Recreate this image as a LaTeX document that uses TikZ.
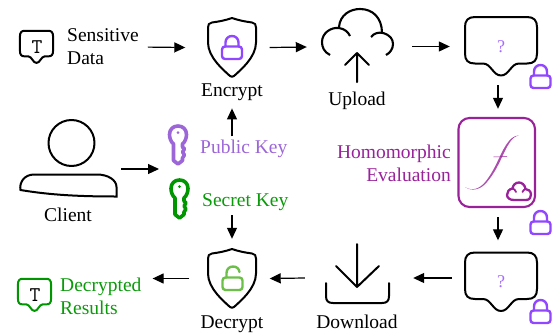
\documentclass[tikz,border=0pt]{standalone}
\usepackage{fontspec}
\setmainfont{Liberation Serif}
\usetikzlibrary{arrows.meta}
\definecolor{lockpurple}{HTML}{9146FF}
\definecolor{qpurple}{HTML}{A56CFF}
\definecolor{keypurple}{HTML}{9C66D9}
\definecolor{keygreen}{HTML}{009600}
\definecolor{textgreen}{HTML}{0A9A0A}
\definecolor{openlock}{HTML}{6CC04A}
\definecolor{evalpurple}{HTML}{99229A}
\tikzset{
  x=1pt,y=-1pt,
  every node/.style={font=\fontsize{19.5}{23}\selectfont,inner sep=0pt,align=center},
  link/.style={line width=1.2pt,-{Triangle[length=11pt,width=10pt]}},
  box/.style={draw=none,fill=none,rectangle,minimum width=#1},
  icon/.style={line width=2pt,line join=round,line cap=round},
  lockline/.style={line width=2.4pt,line join=round,line cap=round},
  glyphT/.style={font=\fontsize{21}{21}\selectfont\ttfamily},
  glyphQ/.style={font=\fontsize{18}{18}\selectfont,text=qpurple},
  pics/shieldicon/.style={code={
    \draw[icon] (0,-29.5) .. controls (-7,-27) and (-13,-26) .. (-20,-25)
      .. controls (-23,-24.5) and (-24,-23) .. (-24,-20) -- (-24,-5)
      .. controls (-24,10) and (-8,23) .. (-2,28.5) .. controls (-1,29.5) and (1,29.5) .. (2,28.5)
      .. controls (8,23) and (24,10) .. (24,-5) -- (24,-20)
      .. controls (24,-23) and (23,-24.5) .. (20,-25) .. controls (13,-26) and (7,-27) .. (0,-29.5) -- cycle;
  }},
  pics/lockicon/.style={code={
    \draw[lockline,color=lockpurple,rounded corners=3pt] (-10,-1.5) rectangle (10,11);
    \draw[lockline,color=lockpurple] (-6.5,-1.5) -- (-6.5,-5.5) .. controls (-6.5,-9.5) and (-3.5,-12) .. (0,-12)
      .. controls (3.5,-12) and (6.5,-9.5) .. (6.5,-5.5) -- (6.5,-1.5);
  }},
  pics/openlockicon/.style={code={
    \draw[lockline,color=openlock,rounded corners=3pt] (-10,-1.5) rectangle (10,11);
    \draw[lockline,color=openlock] (-6,-1.5) -- (-6,-6) .. controls (-6,-10) and (-3,-12.5) .. (0.5,-12.5)
      .. controls (4,-12.5) and (6.5,-10.5) .. (7,-7);
  }},
  pics/chaticon/.style={code={
    \draw[icon,color=#1] (-26,-29.5) -- (26,-29.5) .. controls (33,-29.5) and (36,-26) .. (36,-19.5)
      -- (36,7) .. controls (36,14) and (33,17) .. (26,17) -- (18,17)
      .. controls (10,17) and (8,29) .. (0,29) .. controls (-8,29) and (-10,17) .. (-18,17)
      -- (-26,17) .. controls (-33,17) and (-36,14) .. (-36,7) -- (-36,-19.5)
      .. controls (-36,-26) and (-33,-29.5) .. (-26,-29.5) -- cycle;
  }},
  pics/keyicon/.style={code={
    \draw[line width=3.6pt,line join=round,color=#1]
      (-4.5,-1) .. controls (-7,-3) and (-8.5,-7) .. (-8.5,-10.5)
      .. controls (-8.5,-15.5) and (-5,-19) .. (0,-19)
      .. controls (5,-19) and (8.5,-15.5) .. (8.5,-10.5)
      .. controls (8.5,-7) and (7,-3) .. (4.5,-1)
      -- (4.5,2) -- (6.5,4) -- (4.5,7) -- (6.5,10) -- (4.5,13) -- (4.5,15.5) -- (0,19) -- (-4.5,15.5) -- cycle;
    \fill[color=#1] (0,-12.5) circle (1.5);
  }}
}
\begin{document}
\begin{tikzpicture}
\useasboundingbox (0,0) rectangle (555,335);
% icon anchor nodes
\node[box=33,minimum height=33] (data) at (36.5,47) {};
\node[anchor=west,align=left] (datatext) at (67,47) {Sensitive\\Data};
\node[box=49,minimum height=59] (encrypt) at (232,47.5) {};
\node[anchor=base] (encrypttext) at (232,96) {Encrypt};
\node[box=72,minimum height=60] (cloud) at (358,47) {};
\node[anchor=base] (uploadtext) at (357,105) {Upload};
\node[box=72,minimum height=59] (cipherA) at (501,46.5) {};
\node[box=77,minimum height=89] (evalbox) at (496.5,162.5) {};
\node[anchor=east,align=right,text=evalpurple] (evaltext) at (451,163) {Homomorphic\\Evaluation};
\node[box=72,minimum height=59] (cipherB) at (501,282) {};
\node[box=64,minimum height=70] (download) at (357,278) {};
\node[anchor=base] (downloadtext) at (357,328) {Download};
\node[box=49,minimum height=59] (decrypt) at (232,278.5) {};
\node[anchor=base] (decrypttext) at (232,328) {Decrypt};
\node[box=33,minimum height=33] (result) at (34.5,295) {};
\node[text=textgreen,align=left,anchor=west] (resulttext) at (60,296.5) {Decrypted\\Results};
\node[box=96,minimum height=73] (client) at (68.5,160) {};
\node[anchor=base] (clienttext) at (68,221) {Client};
\node[box=20,minimum height=42] (pubkey) at (178,145) {};
\node[box=20,minimum height=42] (seckey) at (179.5,199) {};
\node[text=keypurple,anchor=base west] (pubtext) at (200,153) {Public Key};
\node[text=textgreen,anchor=base west] (sectext) at (202,206) {Secret Key};
\coordinate (keyside) at (159,169);

% icons
\draw (data.center) pic[xscale=.46,yscale=.55] {chaticon=black};
\node[glyphT] (dataT) at (37,47.5) {T};
\draw (encrypt.center) pic {shieldicon};
\draw (232,48) pic {lockicon};
% upload cloud
\draw[icon,line width=2.1pt,line cap=butt] (330,55) .. controls (324,52) and (322,47) .. (322,42)
  .. controls (322,33) and (331,27) .. (339,28) .. controls (345,29) and (348,32) .. (350,36);
\draw[icon,line width=2.1pt,line cap=butt] (339,27) .. controls (340,15) and (350,9) .. (360,9)
  .. controls (373,9) and (382,18) .. (382,33);
\draw[icon,line width=2.1pt,line cap=butt] (371,37) .. controls (374,33) and (379,32) .. (383,33)
  .. controls (390,35) and (393,39) .. (393,44) .. controls (393,49) and (390,53) .. (386,55);
\draw[icon] (357,82) -- (357,53) (345,65) -- (357,53) -- (369,65);
% cipher top
\draw (cipherA.center) pic {chaticon=black};
\node[glyphQ] (qA) at (501,46.5) {?};
\draw (540.5,77) pic {lockicon};
% evaluation box
\draw[line width=2.1pt,color=evalpurple,rounded corners=11pt] (458.5,118) rectangle (535,207);
\fill[color=evalpurple!80!white]
  (465,187) .. controls (472,191.5) and (480,189) .. (486,181)
  .. controls (497,167) and (501,150) .. (509,141)
  .. controls (512,137.5) and (515,135.5) .. (519,135.5)
  .. controls (515,136.3) and (513,138) .. (510,142)
  .. controls (503,152) and (499,168) .. (487,182)
  .. controls (481,189.5) and (472,192) .. (465,187) -- cycle;
\draw[line width=.5pt,color=evalpurple] (493.5,157) -- (507,156.5);
\draw[icon,color=evalpurple,line width=2.3pt] (514,200) -- (526,200)
  .. controls (530,200) and (531,197) .. (531,194.5) .. controls (531,191) and (528,189) .. (525.5,189)
  .. controls (525,185) and (522,182.5) .. (519,182.5) .. controls (515.5,182.5) and (513,185) .. (512.5,188.5)
  .. controls (509,189) and (507,192) .. (507,195) .. controls (507,198) and (510,200) .. (514,200) -- cycle;
\draw[icon,color=evalpurple,line width=1.8pt] (512.5,188.5) .. controls (514,189) and (515.5,190) .. (516,192);
\draw[icon,color=evalpurple,line width=1.8pt] (525.5,189) .. controls (524,189.5) and (523,190.5) .. (522.5,192);
\draw (540.5,223) pic {lockicon};
% cipher bottom
\draw (cipherB.center) pic {chaticon=black};
\node[glyphQ] (qB) at (501,282) {?};
\draw (540.5,312) pic {lockicon};
% download
\draw[icon] (357,244) -- (357,287) (336,266) -- (357,287) -- (379,266);
\draw[icon] (326,283) -- (326,296) .. controls (326,301) and (328,303) .. (333,303) -- (382,303)
  .. controls (387,303) and (389,301) .. (389,296) -- (389,283);
% decrypt
\draw (decrypt.center) pic {shieldicon};
\draw (232.5,279) pic {openlockicon};
% result
\draw (result.center) pic[xscale=.46,yscale=.55] {chaticon=keygreen};
\node[glyphT] (resultT) at (35,295.5) {T};
% client
\draw[icon] (71.5,143) circle (23);
\draw[icon,line join=miter] (20.5,190) .. controls (19,183) and (24,174.5) .. (34,174.5) -- (97,174.5)
  .. controls (108,174.5) and (116.5,180) .. (116.5,187) -- (116.5,196.5)
  .. controls (80,196.5) and (50,195) .. (20.5,190) -- cycle;
% keys
\draw (pubkey.center) pic {keyicon=keypurple};
\draw (seckey.center) pic {keyicon=keygreen};

% connectors
\draw[link,shorten <=9pt] (datatext.east) -- ([xshift=-22pt]encrypt.west);
\draw[link] ([xshift=13pt]encrypt.east) -- ([xshift=-15pt]cloud.west);
\draw[link] ([xshift=18pt]cloud.east |- cipherA.west) -- ([xshift=-15pt]cipherA.west);
\draw[link] ([xshift=-3pt,yshift=-9pt]cipherA.south) -- ([xshift=-3pt,yshift=9pt]evalbox.north -| cipherA.south);
\draw[link] ([xshift=-3pt,yshift=-10pt]evalbox.south -| cipherB.north) -- ([xshift=-3pt,yshift=12pt]cipherB.north);
\draw[link] ([xshift=-13pt]cipherB.west |- download.east) -- ([xshift=24pt]download.east);
\draw[link] ([xshift=-20pt]download.west) -- ([xshift=13pt]decrypt.east);
\draw[link] ([xshift=-18pt]decrypt.west) -- ([xshift=11pt]resulttext.east |- decrypt.west);
\draw[link] (client.east |- keyside) ++(4.5,0) -- (keyside);
\draw[link] ([yshift=3pt]pubtext.north -| encrypttext.south) -- ([yshift=-8pt]encrypttext.south);
\draw[link] ([yshift=-9pt]sectext.base -| decrypt.north) -- ([yshift=10pt]decrypt.north);
\end{tikzpicture}
\end{document}
